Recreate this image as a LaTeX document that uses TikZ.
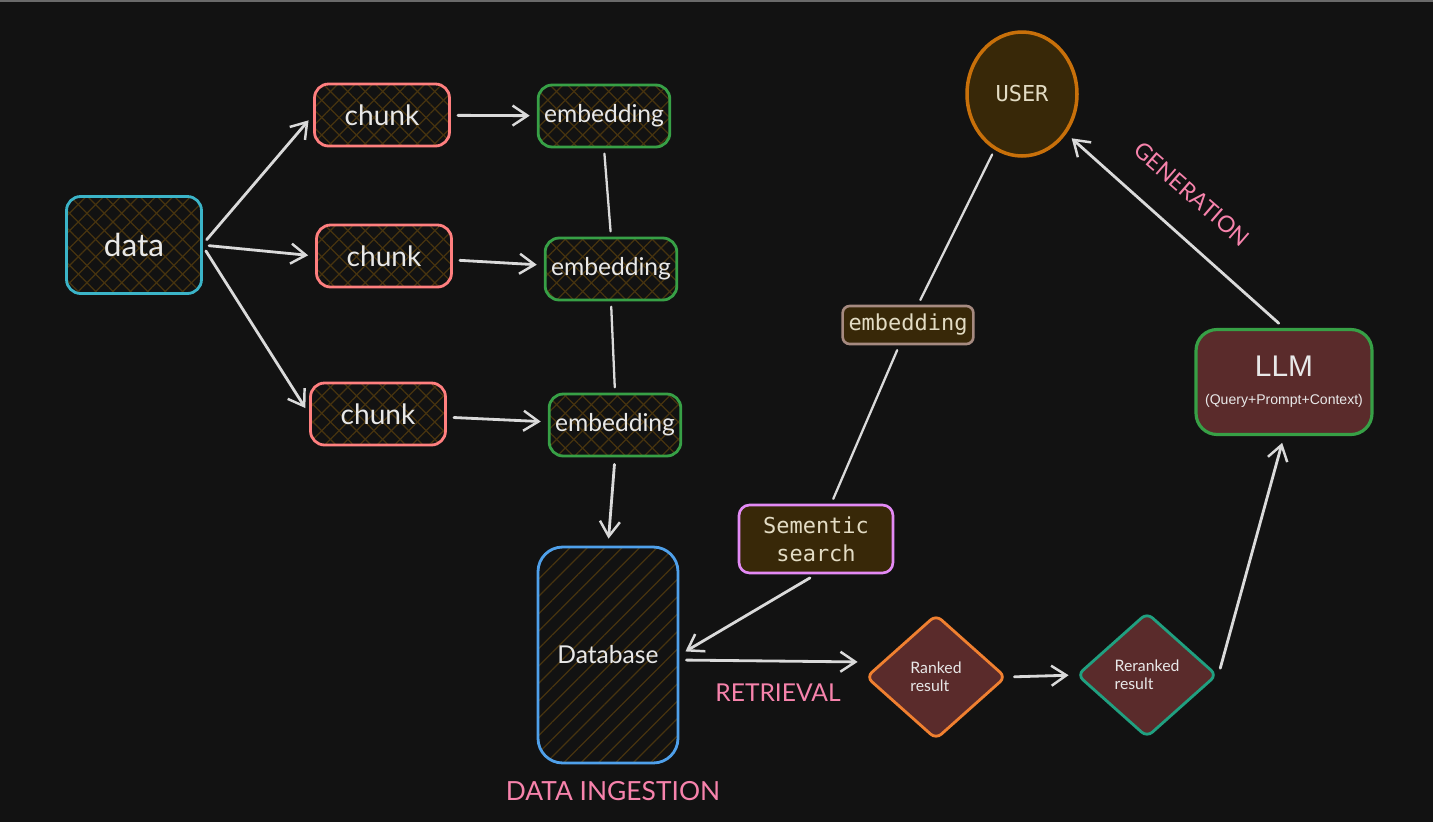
\documentclass[tikz,border=0pt]{standalone}
\usepackage{fontspec}
\setmainfont{Lato}
\setsansfont{Liberation Sans}
\setmonofont{DejaVu Sans Mono}
\usepackage{xcolor}
\usetikzlibrary{arrows.meta,calc,positioning,shapes.geometric,patterns.meta}

\definecolor{bg}{HTML}{121212}
\definecolor{frame}{HTML}{6A6A6A}
\definecolor{ink}{HTML}{E8E8E8}
\definecolor{monoink}{HTML}{E3DCC4}
\definecolor{hatch}{HTML}{47340F}
\definecolor{cyanline}{HTML}{3BB4C8}
\definecolor{salmon}{HTML}{FF7F7F}
\definecolor{leaf}{HTML}{37A046}
\definecolor{sky}{HTML}{4FA0EA}
\definecolor{violet}{HTML}{E38AF5}
\definecolor{taupe}{HTML}{A68A80}
\definecolor{amber}{HTML}{C8700A}
\definecolor{tangerine}{HTML}{F08030}
\definecolor{teal}{HTML}{20A080}
\definecolor{umber}{HTML}{382808}
\definecolor{wine}{HTML}{5A2B2B}
\definecolor{rose}{HTML}{F783AC}
\definecolor{wire}{HTML}{DADADA}

\begin{document}
\begin{tikzpicture}[
  x=0.02cm,
  y=-0.02cm,
  hatched/.style={
    draw,
    line width=1.6pt,
    rounded corners=8pt,
    text=ink,
    pattern={Lines[angle=45,distance=7pt,line width=0.7pt]},
    pattern color=hatch
  },
  crossed/.style={
    hatched,
    preaction={pattern={Lines[angle=-45,distance=7pt,line width=0.7pt]},pattern color=hatch}
  },
  datbox/.style={crossed,draw=cyanline,minimum width=2.7cm,minimum height=1.94cm,
    font=\fontsize{18}{20}\selectfont},
  chunkbox/.style={crossed,draw=salmon,minimum width=2.7cm,minimum height=1.24cm,
    font=\fontsize{16}{18}\selectfont},
  embbox/.style={crossed,draw=leaf,minimum width=2.6cm,minimum height=1.24cm,
    font=\fontsize{14}{16}\selectfont},
  store/.style={hatched,draw=sky,minimum width=2.8cm,minimum height=4.32cm,
    rounded corners=14pt,font=\fontsize{14}{16}\selectfont},
  tagbox/.style={draw,line width=1.5pt,rounded corners=6pt,fill=umber,text=monoink,
    font=\ttfamily\fontsize{12.5}{16}\selectfont,align=center},
  decide/.style={diamond,draw,line width=1.6pt,rounded corners=4pt,fill=wine,text=ink,
    minimum width=2.8cm,minimum height=2.5cm,inner sep=0pt,align=left,
    font=\fontsize{9}{10}\selectfont},
  phase/.style={text=rose,font=\fontsize{15}{17}\selectfont},
  arrow/.style={-{Straight Barb[length=3mm,width=4mm,line width=1.4pt]},wire,line width=1.6pt,
    line cap=round,shorten >=4pt,shorten <=4pt},
  link/.style={wire,line width=1.3pt,line cap=round,shorten >=3pt,shorten <=3pt}
]
% canvas
\fill[bg] (0,0) rectangle (1433,822);
\fill[frame] (0,0) rectangle (1433,2);
\useasboundingbox (0,0) rectangle (1433,822);

% ingestion
\node[datbox] (data) at (134,245) {data};
\node[chunkbox] (chunkA) at (382,115) {chunk};
\node[chunkbox] (chunkB) at (384,256) {chunk};
\node[chunkbox] (chunkC) at (378,414) {chunk};
\node[embbox] (embA) at (604,116) {embedding};
\node[embbox] (embB) at (611,269) {embedding};
\node[embbox] (embC) at (615,425) {embedding};
\node[store] (db) at (608,655) {Database};

% retrieval and generation
\node[tagbox,draw=violet,minimum width=3.08cm,minimum height=1.36cm] (search) at (816,539) {Sementic\\ search};
\node[tagbox,draw=taupe,minimum width=2.54cm,minimum height=0.76cm,rounded corners=4pt] (qemb) at (908,325) {embedding};
\node[ellipse,draw=amber,line width=2pt,fill=umber,text=monoink,minimum width=2.2cm,
  minimum height=2.48cm,font=\ttfamily\fontsize{12.5}{14}\selectfont] (user) at (1022,94) {USER};
\node[draw=leaf,line width=1.8pt,rounded corners=12pt,fill=wine,text=ink,minimum width=3.52cm,
  minimum height=2.1cm,align=center,font=\sffamily] (llm) at (1284,382)
  {{\fontsize{17}{20}\selectfont LLM}\\[4pt]{\fontsize{8}{10}\selectfont (Query+Prompt+Context)}};
\node[decide,draw=tangerine] (ranked) at (936,677) {Ranked\\ result};
\node[decide,draw=teal] (reranked) at (1147,675) {Reranked\\ result};

\node[phase] (ingest) at (613,791) {DATA INGESTION};
\node[phase,font=\fontsize{14}{16}\selectfont] (retr) at (778,693) {RETRIEVAL};
\node[phase,font=\fontsize{13}{15}\selectfont,rotate=-41] (gen) at (1192,194) {GENERATION};

% connectors
\draw[arrow] (data.east) -- (chunkA.west);
\draw[arrow] (data.east) -- (chunkB.west);
\draw[arrow] (data.east) -- (chunkC.west);
\draw[arrow] (chunkA) -- (embA);
\draw[arrow] (chunkB) -- (embB);
\draw[arrow] (chunkC) -- (embC);
\draw[link] (embA.south) -- (embB.north);
\draw[link] (embB.south) -- (embC.north);
\draw[arrow] (embC.south) -- (db.north);
\draw[link] (user) -- (qemb);
\draw[link] (qemb) -- (search);
\draw[arrow] (search.south) -- (db.east);
\draw[arrow] ([yshift=-0.1cm]db.east) -- ([yshift=0.3cm]ranked.west);
\draw[arrow] (ranked.east) -- (reranked.west);
\draw[arrow] (reranked.east) -- (llm.south);
\draw[arrow] (llm.north) -- (user);
\end{tikzpicture}
\end{document}
